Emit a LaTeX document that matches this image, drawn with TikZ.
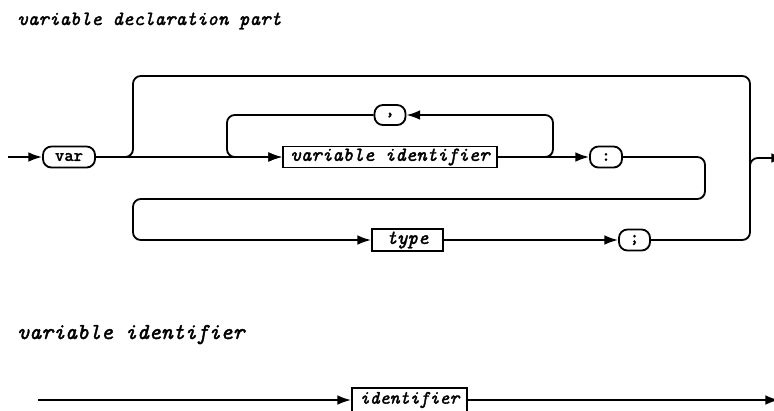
\documentclass[tikz,border=0pt]{standalone}
\usepackage{fontspec}
\usepackage{tikz}
\usetikzlibrary{calc,arrows.meta}

\newfontfamily\ttheavy{lmmono10-italic.otf}[FakeBold=1.6]
\newfontfamily\ttterm{lmmonolt10-bold.otf}[FakeBold=1]

\tikzset{
  term/.style={draw,line width=1.3pt,rounded corners=6pt,inner sep=0pt,
    font=\fontsize{12.7}{14}\selectfont\ttterm},
  nterm/.style={draw,line width=1.3pt,inner sep=0pt,
    font=\fontsize{14.2}{16}\selectfont\ttheavy},
  wire/.style={line width=1.3pt,rounded corners=5.5pt},
  flow/.style={line width=1.3pt,-{Latex[length=0.34cm,width=0.24cm]}},
  heading/.style={anchor=base west,inner sep=0pt}
}

\begin{document}
\begin{tikzpicture}[x=0.025cm,y=-0.025cm]
        \useasboundingbox (0,0) rectangle (774,410);
        % variable declaration part
        \node[heading,font=\fontsize{14.3}{16}\selectfont\ttheavy] (t1) at (17,25) {variable declaration part};
        \node[term,minimum width=1.3cm,minimum height=0.525cm] (var) at (69,157) {var};
        \node[nterm,minimum width=5.35cm,minimum height=0.525cm] (vid) at (390,157) {variable identifier};
        \node[term,minimum width=0.775cm,minimum height=0.5cm] (comma) at (390,115) {,};
        \node[term,minimum width=0.8cm,minimum height=0.525cm] (colon) at (606,157) {:};
        \node[nterm,minimum width=1.775cm,minimum height=0.55cm] (type) at (407.5,240) {type};
        \node[term,minimum width=0.775cm,minimum height=0.525cm] (semi) at (634.5,240) {;};
        \coordinate (in) at (8,157);
        \coordinate (j1) at (133,157);
        \coordinate (tr) at (750,76);
        \coordinate (cl) at (227,115);
        \coordinate (cr) at (553,115);
        \coordinate (sr) at (705,199);
        \coordinate (sl) at (133,199);
        \coordinate (xr) at (750,158);
        \coordinate (out) at (785,158);
        \draw[flow] (in) -- (var);
        \draw[flow] (var) -- (vid);
        \draw[wire,flow] (vid) -| (cr) -- (comma);
        \draw[wire,flow] (comma) -- (cl) |- (vid);
        \draw[flow] (vid) -- (colon);
        \draw[wire,flow] (colon) -| (sr) -- (sl) |- (type);
        \draw[flow] (type) -- (semi);
        \draw[wire] (var) -- (j1) |- (tr) |- (semi);
        \draw[wire,flow] ($(xr)+(0,14)$) -- (xr) -- (out);
        % variable identifier
        \node[heading,font=\fontsize{16.2}{18}\selectfont\ttheavy] (t2) at (17,339) {variable identifier};
        \node[nterm,font=\fontsize{13.5}{15}\selectfont\ttheavy,minimum width=2.875cm,minimum height=0.6cm] (ident) at (409.5,400) {identifier};
        \coordinate (bl) at (38,400);
        \coordinate (br) at (779,400);
        \draw[flow] (bl) -- (ident);
        \draw[flow] (ident) -- (br);
      \end{tikzpicture}
\end{document}
